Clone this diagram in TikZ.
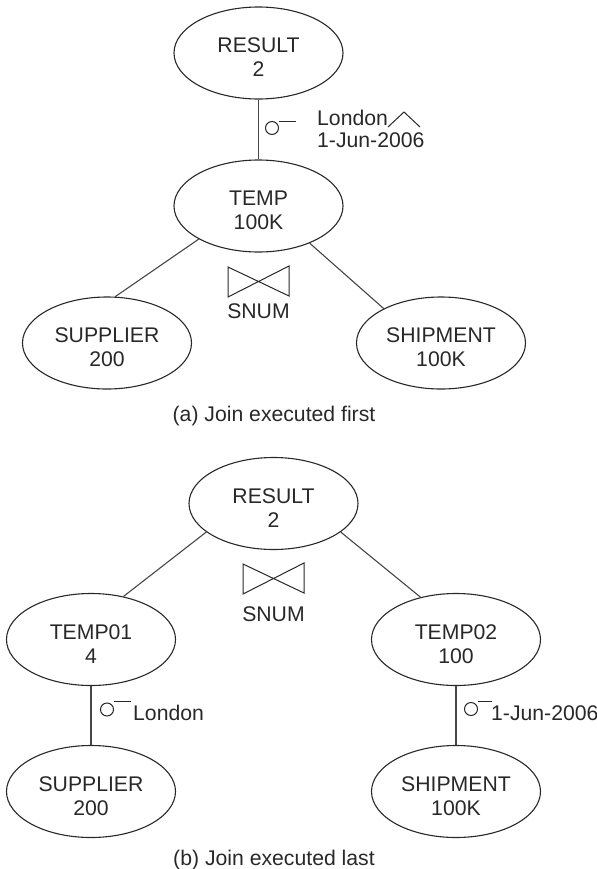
\documentclass[tikz,border=0pt]{standalone}
\usepackage{fontspec}
\setmainfont{Liberation Sans}
\usetikzlibrary{shapes.geometric}
\definecolor{ink}{RGB}{40,40,40}
\definecolor{wire}{RGB}{70,70,70}
\tikzset{
  rel/.style={ellipse, draw=ink, line width=1.1bp, minimum width=169bp, minimum height=92bp,
    inner sep=0pt, align=center, text=ink, text height=47bp, text depth=0pt,
    font=\fontsize{21.2bp}{24bp}\selectfont},
  lbl/.style={inner sep=0pt, text=ink, font=\fontsize{21.2bp}{24bp}\selectfont},
  edge/.style={draw=wire, line width=1.1bp},
  sym/.style={draw=ink, line width=1bp},
}
\begin{document}
\begin{tikzpicture}[x=1bp,y=-1bp]
\useasboundingbox (0,0) rectangle (597,869);
% ---------- (a) ----------
\node[rel] (ra) at (258.5,53) {RESULT\\2};
\node[rel] (ta) at (258.5,206) {TEMP\\100K};
\node[rel] (sa) at (107,343) {SUPPLIER\\200};
\node[rel] (ha) at (441,343) {SHIPMENT\\100K};
\draw[edge] (ra.south) -- (ta.north);
\draw[edge] (ta.209) -- (sa.80);
\draw[edge] (ta.324) -- (ha.149);
% selection symbol
\draw[sym] (272,128) circle[radius=6.5bp];
\draw[sym] (279,121.5) -- (296,121.5);
\node[lbl, anchor=base west] (la1) at (317,125) {London};
\draw[sym] (388,127) -- (404,112) -- (420,127);
\node[lbl, anchor=base west] (la2) at (317,147) {1-Jun-2006};
% join symbol
\draw[sym] (228,267) -- (289,296) -- (289,266) -- (228,297) -- cycle;
\node[lbl, anchor=base] (ja) at (258.5,318) {SNUM};
\node[lbl, anchor=base] (capa) at (274,421) {(a) Join executed first};
% ---------- (b) ----------
\node[rel] (rb) at (273.5,503.5) {RESULT\\2};
\node[rel] (t1) at (91,639.5) {TEMP01\\4};
\node[rel] (t2) at (456,639.5) {TEMP02\\100};
\node[rel] (sb) at (91,791.5) {SUPPLIER\\200};
\node[rel] (hb) at (456,791.5) {SHIPMENT\\100K};
\draw[edge] (rb.203) -- (t1.53);
\draw[edge] (rb.337) -- (t2.130);
\draw[edge] (t1.south) -- (sb.north);
\draw[edge] (t2.south) -- (hb.north);
\draw[sym] (243,564) -- (304,593) -- (304,563) -- (243,594) -- cycle;
\node[lbl, anchor=base] (jb) at (273.5,621) {SNUM};
% selection symbols
\draw[sym] (107,709.5) circle[radius=6.5bp];
\draw[sym] (114,701) -- (131,701);
\node[lbl, anchor=base west] (lb1) at (133,720) {London};
\draw[sym] (471,709) circle[radius=6.5bp];
\draw[sym] (478,701) -- (492,701);
\node[lbl, anchor=base west] (lb2) at (491,720) {1-Jun-2006};
\node[lbl, anchor=base] (capb) at (274,865) {(b) Join executed last};
\end{tikzpicture}
\end{document}
